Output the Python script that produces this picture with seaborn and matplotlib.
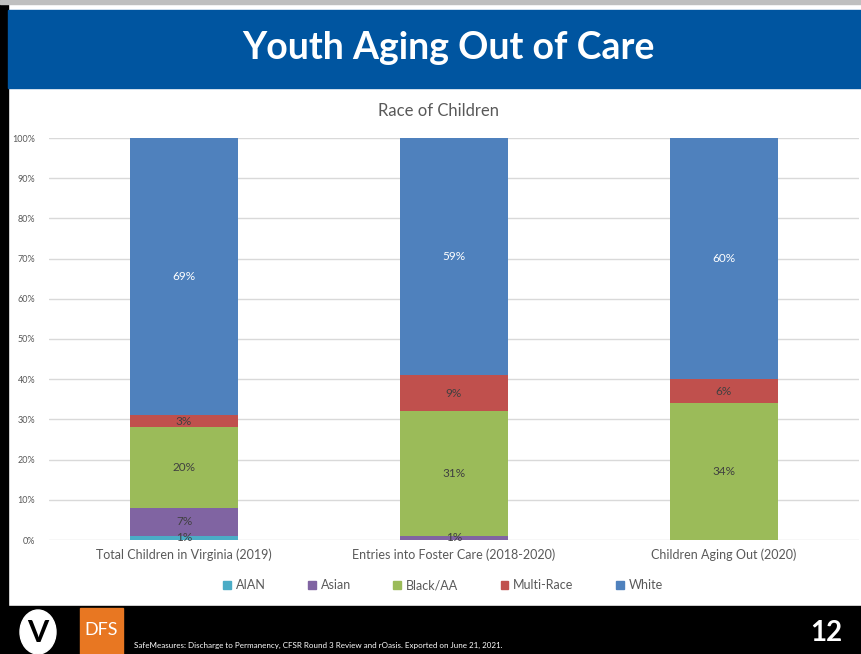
"""
Youth aging out of care: race of children as 100% stacked bars (slide recreation).
"""

import matplotlib.pyplot as plt
import matplotlib.patches as mpatches
import numpy as np
import pandas as pd
import seaborn as sns

# chart values (percent of each group)
groups = ["Total Children in Virginia (2019)", "Entries into Foster Care (2018-2020)", "Children Aging Out (2020)"]
races = ["AIAN", "Asian", "Black/AA", "Multi-Race", "White"]
aian = [1, 0, 0]
asian = [7, 1, 0]
black = [20, 31, 34]
multi = [3, 9, 6]
white = [69, 59, 60]

colors = {
    "AIAN": "#4BACC6",
    "Asian": "#8064A2",
    "Black/AA": "#9BBB59",
    "Multi-Race": "#C0504D",
    "White": "#4F81BD",
}

sns.set_theme(style="white")
plt.rcParams["font.family"] = ["Lato", "DejaVu Sans"]

W, H = 862, 654
fig = plt.figure(figsize=(W / 100, H / 100), dpi=100)
fig.patch.set_facecolor("white")


def px(x, y):
    """pixel (top-left origin) -> figure fraction"""
    return x / W, 1 - y / H


# slide frame, header and footer
fig.add_artist(mpatches.Rectangle((0, 0), 8 / W, 1, transform=fig.transFigure, color="black", zorder=0))
fig.add_artist(mpatches.Rectangle((0, 1 - 4 / H), 1, 4 / H, transform=fig.transFigure, color="#BFBFBF", zorder=0))
x0, y0 = px(8, 88)
fig.add_artist(mpatches.Rectangle((x0, y0), 1 - x0, 78 / H, transform=fig.transFigure, color="#0055A0", zorder=1))
fig.text(*px(448, 48), "Youth Aging Out of Care", color="white", fontsize=27, fontweight="bold",
         ha="center", va="center")
fig.add_artist(mpatches.Rectangle((0, 0), 1, 48 / H, transform=fig.transFigure, color="black", zorder=1))

# footer logos
fig.add_artist(mpatches.Ellipse(px(38, 632), 36 / W, 44 / H, transform=fig.transFigure, color="white", zorder=2))
fig.text(*px(38, 633), "V", color="black", fontsize=22, fontweight="bold", ha="center", va="center", zorder=3)
lx, ly = px(80, 654)
fig.add_artist(mpatches.Rectangle((lx, ly), 43 / W, 46 / H, transform=fig.transFigure, color="#E87722", zorder=2))
fig.text(*px(101, 630), "DFS", color="white", fontsize=13, ha="center", va="center", zorder=3)
fig.text(*px(134, 645), "SafeMeasures: Discharge to Permanency, CFSR Round 3 Review and rOasis. Exported on June 21, 2021.",
         color="white", fontsize=5.8, ha="left", va="center", zorder=3)
fig.text(*px(842, 633), "12", color="white", fontsize=20, fontweight="bold", ha="right", va="center", zorder=3)

# chart
ax = fig.add_axes([49 / W, 114 / H, 810 / W, 402 / H])
fig.text(*px(439, 111), "Race of Children", color="#595959", fontsize=12, ha="center", va="center")

df = pd.DataFrame({"group": groups, "AIAN": aian, "Asian": asian, "Black/AA": black,
                   "Multi-Race": multi, "White": white})
cum = df[races].cumsum(axis=1)

# draw cumulative totals from the top layer down so each segment sits on the one below
for race in reversed(races):
    sns.barplot(data=cum.assign(group=groups), x="group", y=race, color=colors[race],
                width=0.4, saturation=1, linewidth=0, ax=ax, zorder=3)

for i in range(len(groups)):
    bottom = 0
    for race in races:
        v = df.loc[i, race]
        if v > 0:
            ax.text(i, bottom + v / 2, f"{v}%", ha="center", va="center", fontsize=8.5,
                    color="white" if race == "White" else "#404040", zorder=4)
        bottom += v

ax.set_xlim(-0.5, 2.5)
ax.set_ylim(0, 100)
ax.set_yticks(np.arange(0, 101, 10))
ax.set_yticklabels([f"{t}%" for t in range(0, 101, 10)], fontsize=6.5, color="#595959")
ax.tick_params(axis="y", length=0, pad=10)
ax.tick_params(axis="x", length=0, pad=6, labelsize=9, labelcolor="#595959")
ax.set_xlabel("")
ax.set_ylabel("")
ax.grid(axis="y", color="#D9D9D9", linewidth=1, zorder=0)
ax.set_axisbelow(True)
for s in ax.spines.values():
    s.set_visible(False)

handles = [mpatches.Patch(color=colors[r], label=r) for r in races]
fig.legend(handles=handles, loc="center", bbox_to_anchor=px(443, 585), ncol=5, frameon=False,
           fontsize=9, labelcolor="#595959", handlelength=0.6, handleheight=0.6, handletextpad=0.4,
           columnspacing=3.4)

fig.savefig("out.png", dpi=100)
